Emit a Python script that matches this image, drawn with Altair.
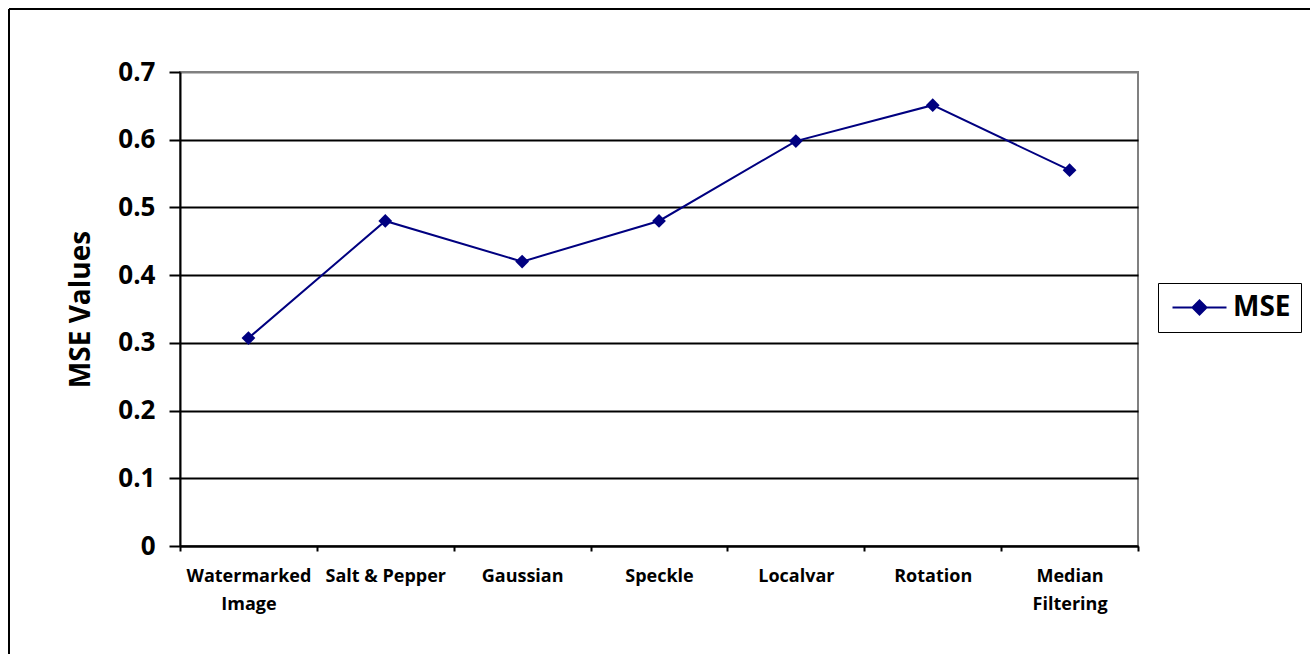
import altair as alt
import pandas as pd

# Attack types and the MSE measured for each
categories = ["Watermarked Image", "Salt & Pepper", "Gaussian", "Speckle",
              "Localvar", "Rotation", "Median Filtering"]
mse_values = [0.307, 0.48, 0.42, 0.48, 0.598, 0.651, 0.555]
series_name = ["MSE"] * len(categories)
y_ticks = [0, 0.1, 0.2, 0.3, 0.4, 0.5, 0.6, 0.7]

df = pd.DataFrame({"attack": categories, "mse": mse_values, "series": series_name})

NAVY = "#000080"
FONT = "Open Sans"

label_expr = (
    "datum.label == 'Watermarked Image' ? ['Watermarked', 'Image'] : "
    "datum.label == 'Median Filtering' ? ['Median', 'Filtering'] : datum.label"
)

x_enc = alt.X(
    "attack:N",
    sort=categories,
    scale=alt.Scale(paddingInner=0, paddingOuter=0),
    axis=alt.Axis(
        title=None,
        labelAngle=0,
        labelExpr=label_expr,
        labelFont=FONT,
        labelFontSize=18,
        labelFontWeight="bold",
        labelColor="black",
        labelLineHeight=28,
        labelPadding=16,
        labelBaseline="top",
        tickBand="extent",
        tickSize=5,
        tickWidth=2,
        tickColor="black",
        domainColor="black",
        domainWidth=2,
        grid=False,
    ),
)

y_enc = alt.Y(
    "mse:Q",
    scale=alt.Scale(domain=[0, 0.7], nice=False),
    axis=alt.Axis(
        title="MSE Values",
        titleFont=FONT,
        titleFontSize=28,
        titleFontWeight="bold",
        titleColor="black",
        titlePadding=22,
        values=y_ticks,
        format=".1~f",
        labelFont=FONT,
        labelFontSize=26,
        labelFontWeight="bold",
        labelColor="black",
        labelPadding=14,
        tickSize=11,
        tickWidth=2,
        tickColor="black",
        domainColor="black",
        domainWidth=2,
        grid=True,
        gridWidth=2,
        gridColor={"condition": {"test": "datum.value >= 0.65", "value": "#808080"},
                   "value": "black"},
    ),
)

legend = alt.Legend(
    title=None,
    orient="none",
    legendX=978,
    legendY=211,
    strokeColor="black",
    padding=10,
    labelFont=FONT,
    labelFontSize=28,
    labelFontWeight="bold",
    labelColor="black",
    labelOffset=19,
    symbolOffset=17,
    symbolType="M-2,0H2M0,-0.52L0.52,0L0,0.52L-0.52,0Z",
    symbolSize=729,
    symbolFillColor=NAVY,
    symbolStrokeColor=NAVY,
    symbolStrokeWidth=2,
)

line = alt.Chart(df).mark_line(color=NAVY, strokeWidth=2).encode(
    x=x_enc,
    y=y_enc,
    color=alt.Color("series:N", scale=alt.Scale(range=[NAVY]), legend=legend),
)

points = alt.Chart(df).mark_point(
    shape="diamond", filled=True, size=190, color=NAVY, opacity=1
).encode(x=x_enc, y=y_enc)

# Outer frame (top and left edges)
frame_data = alt.Data(values=[{}])
frame_top = alt.Chart(frame_data).mark_rule(color="black", strokeWidth=2).encode(
    x=alt.value(-171), x2=alt.value(1200), y=alt.value(-63)
)
frame_left = alt.Chart(frame_data).mark_rule(color="black", strokeWidth=2).encode(
    x=alt.value(-171), y=alt.value(-63), y2=alt.value(700)
)

chart = (
    alt.layer(line, points, frame_top, frame_left)
    .properties(
        width=958,
        height=474,
        padding={"left": 180, "top": 72, "right": 172, "bottom": 108},
        autosize=alt.AutoSizeParams(type="none"),
        background="white",
    )
    .configure_view(stroke="#808080", strokeWidth=2)
)

chart.save("out.html", embed_options={"renderer": "svg", "actions": False})
